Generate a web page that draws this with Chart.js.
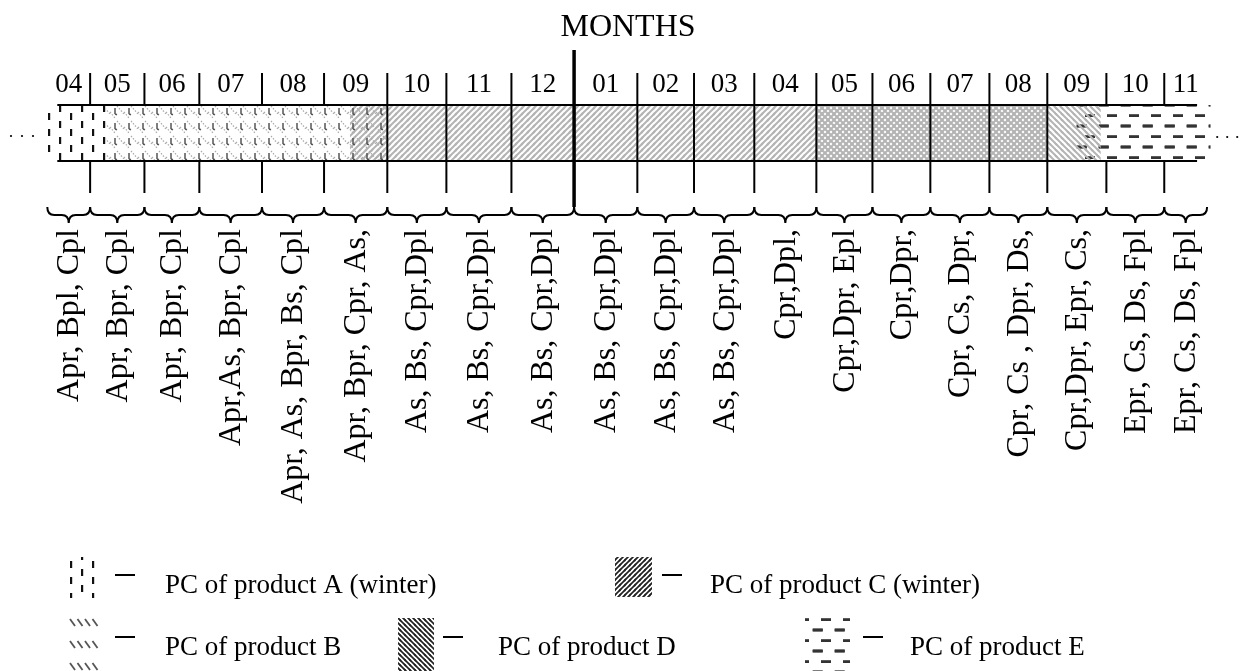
<!DOCTYPE html>
<html><head><meta charset="utf-8">
<script src="https://cdn.jsdelivr.net/npm/chart.js@4.4.1/dist/chart.umd.min.js"></script>
<style>html,body{margin:0;padding:0;background:#fff;}#wrap{width:1248px;height:671px;position:relative;}</style>
</head><body><div id="wrap"><canvas id="c" width="1248" height="671"></canvas></div>
<script>
// ---- data ----
const monthLabels = ['04','05','06','07','08','09','10','11','12','01','02','03','04','05','06','07','08','09','10','11'];
// month boundaries on a time axis (unit = 1 month, 0 = start of the first "05")
const monthEdges = [-0.55, 0.00, 0.91, 1.83, 2.88, 3.92, 4.98, 5.97, 7.06, 8.11, 9.17, 10.12, 11.13, 12.17, 13.11, 14.08, 15.07, 16.04, 17.03, 18.00, 18.55];
const monthContents = [
  'Apr, Bpl, Cpl','Apr, Bpr, Cpl','Apr, Bpr, Cpl','Apr,As, Bpr, Cpl','Apr, As, Bpr, Bs, Cpl',
  'Apr, Bpr, Cpr, As,','As, Bs, Cpr,Dpl','As, Bs, Cpr,Dpl','As, Bs, Cpr,Dpl','As, Bs, Cpr,Dpl',
  'As, Bs, Cpr,Dpl','As, Bs, Cpr,Dpl','Cpr,Dpl,','Cpr,Dpr, Epl','Cpr,Dpr,','Cpr, Cs, Dpr,',
  'Cpr, Cs , Dpr, Ds,','Cpr,Dpr, Epr, Cs,','Epr, Cs, Ds, Fpl','Epr, Cs, Ds, Fpl'];
const products = ['A','B','C','D','E'];
const productLabels = ['PC of product A (winter)','PC of product B','PC of product C (winter)','PC of product D','PC of product E'];
const periodStart = [-0.84, 0.27, 4.36, 12.17, 16.50];
const periodEnd   = [ 0.27, 4.98, 16.04, 16.93, 18.77];

// ---- patterns ----
const canvas = document.getElementById('c');
const ctx = canvas.getContext('2d');
function makePattern(w, h, draw) {
  const t = document.createElement('canvas'); t.width = w; t.height = h;
  const g = t.getContext('2d');
  for (const dx of [-w, 0, w]) for (const dy of [-h, 0, h]) { g.save(); g.translate(dx, dy); draw(g, w, h); g.restore(); }
  return ctx.createPattern(t, 'repeat');
}
function seg(g, x1, y1, x2, y2) { g.beginPath(); g.moveTo(x1, y1); g.lineTo(x2, y2); g.stroke(); }
function hatch(dir, s, color, lw) {
  return makePattern(s, s, (g) => {
    g.strokeStyle = color; g.lineWidth = lw;
    if (dir > 0) seg(g, -1, s + 1, s + 1, -1); else seg(g, -1, -1, s + 1, s + 1);
  });
}
const patA = makePattern(22, 16, (g) => {
  g.fillStyle = '#111';
  g.fillRect(4, 1, 2.2, 7); g.fillRect(15, 9, 2.2, 7);
});
const patB = makePattern(14, 15, (g) => {
  g.strokeStyle = '#aaa'; g.lineWidth = 1.2;
  g.setLineDash([1.5, 1.5]);
  seg(g, 5, 1, 12, 9); seg(g, -2, 7, 3, 13);
  g.setLineDash([]);
  g.strokeStyle = '#555'; g.lineWidth = 1.5;
  seg(g, 3, 3, 3, 9); seg(g, 3, 9, 5, 9.8);
});
const patC = hatch(1, 6, '#b4b4b4', 2);
const patD = hatch(-1, 6, '#b4b4b4', 2);
const patE = makePattern(22, 21, (g) => {
  g.fillStyle = '#333';
  g.fillRect(7, 9.2, 10, 2.8);
  g.fillRect(-1.3, -1.4, 10, 2.8); g.fillRect(20.7, -1.4, 10, 2.8);
});
const patterns = [patA, patB, patC, patD, patE];
const legendPatterns = [patA, null, hatch(1, 5, '#222', 1.6), hatch(-1, 5, '#222', 1.6), patE];

const SERIF = '"Liberation Serif", "Times New Roman", serif';

const overlay = {
  id: 'overlay',
  afterDatasetsDraw(chart) {
    const c = chart.ctx, xs = chart.scales.x, a = chart.chartArea;
    const px = (v) => xs.getPixelForValue(v);
    const top = a.top, bot = a.bottom;
    c.save();
    c.strokeStyle = '#000'; c.fillStyle = '#000';
    // bar outline
    c.lineWidth = 2;
    const x0 = px(monthEdges[0]), xN = px(monthEdges[monthEdges.length - 1]);
    seg(c, x0, top, xN, top); seg(c, x0, bot, xN, bot);
    // month separators
    const yearBreak = monthLabels.findIndex((m, i) => i > 0 && m === '01');
    for (let i = 1; i < monthEdges.length - 1; i++) {
      const x = px(monthEdges[i]);
      if (i === yearBreak) { c.lineWidth = 3.5; seg(c, x, 50, x, 207); continue; }
      c.lineWidth = 2;
      const through = monthEdges[i] >= periodStart[2] && monthEdges[i] <= periodEnd[2] + 0.01;
      if (through) seg(c, x, 73, x, 193);
      else { seg(c, x, 73, x, top); seg(c, x, bot, x, 193); }
    }
    // braces, month labels, rotated contents
    const ext = 10;
    for (let i = 0; i < monthLabels.length; i++) {
      let a0 = px(monthEdges[i]), a1 = px(monthEdges[i + 1]);
      if (i === 0) a0 -= ext;
      if (i === monthLabels.length - 1) a1 += ext;
      const mid = (a0 + a1) / 2, r = 7;
      c.lineWidth = 2;
      c.beginPath();
      c.moveTo(a0, 207); c.quadraticCurveTo(a0, 215, a0 + r, 215);
      c.lineTo(mid - r, 215); c.quadraticCurveTo(mid, 215, mid, 223);
      c.quadraticCurveTo(mid, 215, mid + r, 215);
      c.lineTo(a1 - r, 215); c.quadraticCurveTo(a1, 215, a1, 207);
      c.stroke();
      c.font = '27px ' + SERIF; c.textAlign = 'center'; c.textBaseline = 'alphabetic';
      c.fillText(monthLabels[i], mid, 92);
      c.save();
      c.translate(mid + 1, 229); c.rotate(-Math.PI / 2);
      c.font = '32px ' + SERIF; c.textAlign = 'right'; c.textBaseline = 'middle';
      c.fillText(monthContents[i], 0, 0);
      c.restore();
    }
    // title
    c.font = '32px ' + SERIF; c.textAlign = 'center'; c.textBaseline = 'alphabetic';
    c.fillText('MONTHS', 628, 36);
    // continuation dots
    const l = px(periodStart[0]), rr = px(periodEnd[4]);
    for (const d of [-29, -18, -7]) { c.beginPath(); c.arc(l + d, 136, 1.1, 0, Math.PI * 2); c.fill(); }
    for (const d of [7, 17, 27]) { c.beginPath(); c.arc(rr + d, 137, 1.1, 0, Math.PI * 2); c.fill(); }
    // legend
    const items = [
      {i: 0, ix: 68, iy: 557, iw: 31, ih: 41, dx: 115, tx: 165, ty: 593},
      {i: 2, ix: 615, iy: 557, iw: 37, ih: 40, dx: 662, tx: 710, ty: 593},
      {i: 1, ix: 68, iy: 618, iw: 31, ih: 53, dx: 115, tx: 165, ty: 655},
      {i: 3, ix: 398, iy: 618, iw: 36, ih: 53, dx: 443, tx: 498, ty: 655},
      {i: 4, ix: 805, iy: 618, iw: 45, ih: 53, dx: 863, tx: 910, ty: 655}
    ];
    for (const it of items) {
      if (legendPatterns[it.i]) {
        c.fillStyle = legendPatterns[it.i]; c.fillRect(it.ix, it.iy, it.iw, it.ih);
      } else {
        c.strokeStyle = '#555'; c.lineWidth = 1.8;
        for (const ry of [619, 641, 663]) for (let k = 0; k < 4; k++) {
          const sx = it.ix + 2 + k * 7.5; seg(c, sx, ry, sx + 5, ry + 7);
        }
      }
      c.strokeStyle = '#000'; c.lineWidth = 2;
      const dy = it.ty - 18;
      seg(c, it.dx, dy, it.dx + 20, dy);
      c.fillStyle = '#000';
      c.font = '27px ' + SERIF; c.textAlign = 'left'; c.textBaseline = 'alphabetic';
      c.fillText(productLabels[it.i], it.tx, it.ty);
    }
    c.restore();
  }
};

new Chart(canvas, {
  type: 'bar',
  data: {
    labels: ['PC'],
    datasets: products.map((p, i) => ({
      label: productLabels[i],
      data: [[periodStart[i], periodEnd[i]]],
      backgroundColor: patterns[i],
      borderWidth: 0
    }))
  },
  options: {
    indexAxis: 'y',
    responsive: false,
    animation: false,
    devicePixelRatio: 1,
    layout: {padding: {left: 40, right: 36, top: 105, bottom: 510}},
    datasets: {bar: {barPercentage: 1, categoryPercentage: 1, grouped: false}},
    scales: {
      x: {type: 'linear', min: -0.84, max: 18.80, display: false},
      y: {display: false}
    },
    plugins: {legend: {display: false}, tooltip: {enabled: false}}
  },
  plugins: [overlay]
});
</script>
</body></html>
